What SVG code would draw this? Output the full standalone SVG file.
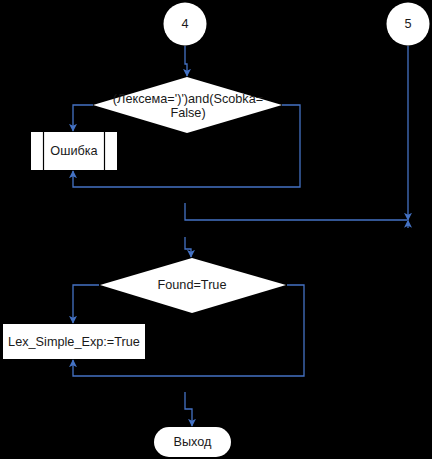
<svg xmlns="http://www.w3.org/2000/svg" width="432" height="459" viewBox="0 0 432 459">
<style>
.shape{fill:#ffffff;stroke:none}
.ln{fill:none;stroke:#4472C4;stroke-width:1.3}
.tx{font-family:"Liberation Sans",Arial,sans-serif;font-size:12.7px;fill:#1a1a1a;text-anchor:middle;dominant-baseline:central}
.div{stroke:#000000;stroke-width:1.2}
</style>
<defs>
<marker id="arr" viewBox="0 0 10 10" refX="9" refY="5" markerWidth="8" markerHeight="8" markerUnits="userSpaceOnUse" orient="auto">
<path d="M0,0 L10,5 L0,10 L2.5,5 z" fill="#4472C4"/>
</marker>
</defs>
<rect x="0" y="0" width="432" height="459" fill="#000000"/>
<g id="connectors">
<path class="ln" d="M185,46 V64 H187 V76" marker-end="url(#arr)"/>
<path class="ln" d="M93,105 H73 V131" marker-end="url(#arr)"/>
<path class="ln" d="M282,105 H300 V187 H73 V171" marker-end="url(#arr)"/>
<path class="ln" d="M408,46 V220" marker-end="url(#arr)"/>
<path class="ln" d="M185,203 V220 H407"/>
<path class="ln" d="M408,228 V220.5" marker-end="url(#arr)"/>
<path class="ln" d="M185,237 V249 H191 V257" marker-end="url(#arr)"/>
<path class="ln" d="M99,285 H73 V323" marker-end="url(#arr)"/>
<path class="ln" d="M287,285 H304 V376 H73 V360" marker-end="url(#arr)"/>
<path class="ln" d="M185,392 V409 H192 V426" marker-end="url(#arr)"/>
</g>
<g id="node4">
<circle class="shape" cx="185" cy="24" r="21.5"/>
<text class="tx" x="185" y="24">4</text>
</g>
<g id="node5">
<circle class="shape" cx="408" cy="24" r="21.5"/>
<text class="tx" x="408" y="24">5</text>
</g>
<g id="decision1">
<polygon class="shape" points="187,77 282,105 187,133 93,105"/>
<text class="tx" x="188" y="98.5">(Лексема=')')and(Scobka=</text>
<text class="tx" x="188" y="112.5">False)</text>
</g>
<g id="error">
<rect class="shape" x="31" y="132" width="86" height="38"/>
<line class="div" x1="43.5" y1="132" x2="43.5" y2="170"/>
<line class="div" x1="104.5" y1="132" x2="104.5" y2="170"/>
<text class="tx" x="74" y="151">Ошибка</text>
</g>
<g id="decision2">
<polygon class="shape" points="192,258 286,285 192,313 100,285"/>
<text class="tx" x="192" y="285">Found=True</text>
</g>
<g id="assign">
<rect class="shape" x="3" y="324" width="142" height="35"/>
<text class="tx" x="74" y="341.5">Lex_Simple_Exp:=True</text>
</g>
<g id="exit">
<rect class="shape" x="154" y="427" width="77" height="30" rx="15" ry="15"/>
<text class="tx" x="192.5" y="442">Выход</text>
</g>
</svg>
